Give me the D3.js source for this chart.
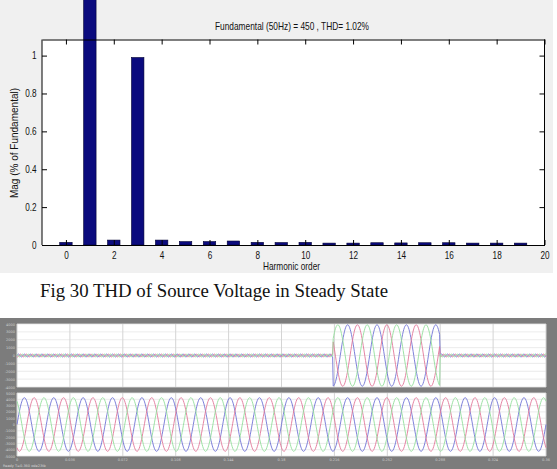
<!DOCTYPE html>
<html>
<head>
<meta charset="utf-8">
<script src="https://cdn.jsdelivr.net/npm/d3@7"></script>
<style>
  html, body { margin: 0; padding: 0; background: #ffffff; }
  svg { display: block; }
</style>
</head>
<body>
<svg id="chart" width="557" height="469"></svg>
<script>
// ---------------- data ----------------
const harmonicOrders = [0, 1, 2, 3, 4, 5, 6, 7, 8, 9, 10, 11, 12, 13, 14, 15, 16, 17, 18, 19];
const magnitudes = [0.014, 100, 0.026, 0.99, 0.026, 0.018, 0.018, 0.021, 0.014, 0.013,
                    0.014, 0.010, 0.010, 0.012, 0.011, 0.012, 0.012, 0.010, 0.010, 0.010];
const xTickValues = [0, 2, 4, 6, 8, 10, 12, 14, 16, 18, 20];
const yTickValues = [0, 0.2, 0.4, 0.6, 0.8, 1];
const chartTitle = "Fundamental (50Hz) = 450 , THD= 1.02%";
const xLabel = "Harmonic order";
const yLabel = "Mag (% of Fundamental)";
const caption = "Fig 30 THD of Source Voltage in Steady State";

// scope screenshot (three-phase waveforms)
const phaseColors = ["#6f73d6", "#e2779a", "#93df9c"];
const phaseOffsetsDeg = [0, 120, 240];
const scopeTime = [0, 0.36];
const supplyFreqHz = 50;
const upperTickLabels = ["4000", "3000", "2000", "1000", "0", "-1000", "-2000", "-3000", "-4000"];
const lowerTickLabels = ["5000", "4000", "3000", "2000", "1000", "0", "-1000", "-2000", "-3000", "-4000", "-5000"];
const timeTickLabels = ["0", "0.036", "0.072", "0.108", "0.144", "0.18", "0.216", "0.252", "0.288", "0.324", "0.36"];
const upperBurst = [0.215, 0.288];
const upperBurstAmp = 3900;
const upperRippleAmp = 180;
const lowerAmp = 4250;

// ---------------- bar chart ----------------
const svg = d3.select("#chart");
const sansFont = "Liberation Sans, Arial, sans-serif";
svg.append("rect").attr("x", 0).attr("y", 0).attr("width", 553).attr("height", 273).attr("fill", "#f0f0f0");

const pl = 42, pr = 544.5, pt = 39.5, pb = 245;
const x = d3.scaleLinear().domain([-1, 20]).range([pl, pr]);
const y = d3.scaleLinear().domain([0, 1.085]).range([pb, pt]);

svg.append("rect").attr("x", pl).attr("y", pt).attr("width", pr - pl).attr("height", pb - pt).attr("fill", "#ffffff");

const barW = (x(1) - x(0)) * 0.52;
svg.append("g").selectAll("rect").data(harmonicOrders).join("rect")
  .attr("x", d => x(d) - barW / 2)
  .attr("y", (d, i) => y(magnitudes[i]))
  .attr("width", barW)
  .attr("height", (d, i) => y(0) - y(magnitudes[i]))
  .attr("fill", "#0b0b7e")
  .attr("stroke", "#000033")
  .attr("stroke-width", 0.6);

const tickLen = 5;
const axB = svg.append("g").attr("transform", `translate(0,${pb})`)
  .call(d3.axisBottom(x).tickValues(xTickValues).tickSizeInner(-tickLen).tickSizeOuter(0).tickPadding(7).tickFormat(d3.format("d")));
const axT = svg.append("g").attr("transform", `translate(0,${pt})`)
  .call(d3.axisTop(x).tickValues(xTickValues).tickSizeInner(-tickLen).tickSizeOuter(0).tickFormat(""));
const axL = svg.append("g").attr("transform", `translate(${pl},0)`)
  .call(d3.axisLeft(y).tickValues(yTickValues).tickSizeInner(-tickLen).tickSizeOuter(0).tickPadding(7).tickFormat(d => d === 0 ? "0" : d3.format("")(d)));
const axR = svg.append("g").attr("transform", `translate(${pr},0)`)
  .call(d3.axisRight(y).tickValues(yTickValues).tickSizeInner(-tickLen).tickSizeOuter(0).tickFormat(""));
[axB, axT, axL, axR].forEach(g => {
  g.selectAll(".domain").attr("stroke", "#000").attr("stroke-width", 1);
  g.selectAll(".tick line").attr("stroke", "#000");
  g.selectAll(".tick text").attr("fill", "#111").attr("font-size", 10.5)
    .attr("font-family", sansFont).attr("transform", "scale(0.78,1)");
});
axB.selectAll(".tick text").attr("dy", "0.62em");
axL.select(".domain").attr("d", `M0,${pt}V${pb}`);
axR.select(".domain").attr("d", `M0,${pt}V${pb}`);

svg.append("text").attr("x", 215).attr("y", 30)
  .attr("font-family", sansFont).attr("font-size", 10.5).attr("fill", "#111")
  .attr("textLength", 154).attr("lengthAdjust", "spacingAndGlyphs").text(chartTitle);
svg.append("text").attr("x", 263).attr("y", 270)
  .attr("font-family", sansFont).attr("font-size", 10.5).attr("fill", "#111")
  .attr("textLength", 57).attr("lengthAdjust", "spacingAndGlyphs").text(xLabel);
svg.append("text").attr("transform", "translate(18,143) rotate(-90)").attr("text-anchor", "middle")
  .attr("font-family", sansFont).attr("font-size", 10).attr("fill", "#111").text(yLabel);

svg.append("text").attr("x", 40).attr("y", 297)
  .attr("font-family", "Liberation Serif, Times New Roman, serif").attr("font-size", 18.5).attr("fill", "#111")
  .attr("textLength", 348).attr("lengthAdjust", "spacingAndGlyphs").text(caption);

// ---------------- scope screenshot ----------------
svg.append("rect").attr("x", 0).attr("y", 318).attr("width", 557).attr("height", 151).attr("fill", "#7c7c7c");

const sx = d3.scaleLinear().domain(scopeTime).range([17, 546]);
function drawPanel(top, bottom, labels, yMax) {
  const g = svg.append("g");
  g.append("rect").attr("x", 17).attr("y", top).attr("width", 529).attr("height", bottom - top).attr("fill", "#ffffff");
  const sy = d3.scaleLinear().domain([-yMax, yMax]).range([bottom, top]);
  const yVals = labels.map(Number);
  g.selectAll("line.h").data(yVals).join("line").attr("class", "h")
    .attr("x1", 17).attr("x2", 546).attr("y1", d => sy(d)).attr("y2", d => sy(d))
    .attr("stroke", "#e6e6e6").attr("stroke-width", 0.8);
  const tVals = timeTickLabels.map(Number);
  g.selectAll("line.v").data(tVals).join("line").attr("class", "v")
    .attr("y1", top).attr("y2", bottom).attr("x1", d => sx(d)).attr("x2", d => sx(d))
    .attr("stroke", "#d4d4d4").attr("stroke-width", 1);
  g.selectAll("text.yl").data(labels).join("text").attr("class", "yl")
    .attr("x", 15).attr("y", d => sy(+d) + 1.5).attr("text-anchor", "end")
    .attr("font-size", 3.5).attr("font-family", "DejaVu Sans").attr("fill", "#d0d0d0").text(d => d);
  return { g, sy };
}

const upper = drawPanel(324, 387, upperTickLabels, 4000);
const lower = drawPanel(393, 456, lowerTickLabels, 5000);

const tSamples = d3.range(scopeTime[0], scopeTime[1] + 1e-9, 0.0004);
phaseOffsetsDeg.forEach((ph, k) => {
  const phi = ph * Math.PI / 180;
  const upperLine = d3.line()
    .x(t => sx(t))
    .y(t => {
      const inBurst = t >= upperBurst[0] && t <= upperBurst[1];
      const v = inBurst
        ? upperBurstAmp * Math.sin(2 * Math.PI * supplyFreqHz * t - phi)
        : upperRippleAmp * Math.sin(2 * Math.PI * supplyFreqHz * 5 * t - phi);
      return upper.sy(v);
    });
  upper.g.append("path").datum(tSamples).attr("d", upperLine)
    .attr("fill", "none").attr("stroke", phaseColors[k]).attr("stroke-width", 0.9);
  const lowerLine = d3.line()
    .x(t => sx(t))
    .y(t => lower.sy(lowerAmp * Math.sin(2 * Math.PI * supplyFreqHz * t - phi)));
  lower.g.append("path").datum(tSamples).attr("d", lowerLine)
    .attr("fill", "none").attr("stroke", phaseColors[k]).attr("stroke-width", 0.9);
});

svg.append("g").selectAll("text").data(timeTickLabels).join("text")
  .attr("x", d => sx(+d)).attr("y", 460.5).attr("text-anchor", "middle")
  .attr("font-size", 3.5).attr("font-family", "DejaVu Sans").attr("fill", "#d0d0d0").text(d => d);
svg.append("text").attr("x", 3).attr("y", 467).attr("font-size", 3.5)
  .attr("font-family", "DejaVu Sans").attr("fill", "#d8d8d8").text("Ready   T=0.360   ode23tb");
</script>
</body>
</html>
